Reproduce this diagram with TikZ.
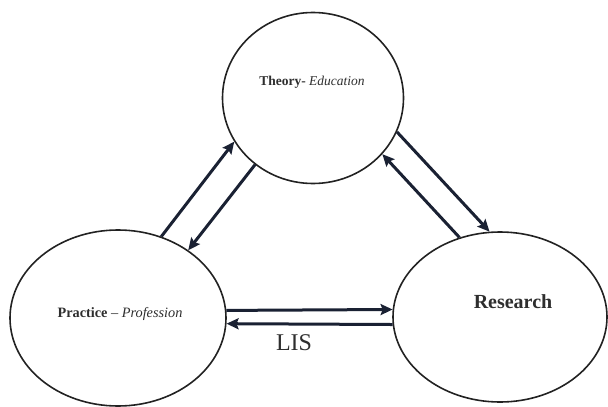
\documentclass[tikz,border=0pt]{standalone}
\usepackage{fontspec}
\setmainfont{Liberation Serif}
\usetikzlibrary{shapes.geometric,arrows.meta}
\definecolor{ink}{HTML}{1A2133}
\definecolor{rim}{HTML}{222222}
\definecolor{txt}{HTML}{2E2E2E}
\tikzset{
  blob/.style={ellipse, draw=rim, line width=1.6pt, inner sep=0pt},
  link/.style={draw=ink, line width=3pt, -{Stealth[length=12pt,width=11pt,inset=2pt]}},
  lbl/.style={text=txt, inner sep=0pt}
}
\begin{document}
\begin{tikzpicture}[x=1pt,y=-1pt]
\useasboundingbox (0,0) rectangle (608,407);
\node[blob, minimum width=181pt, minimum height=171pt] (theory) at (313,98) {};
\node[blob, minimum width=216pt, minimum height=176pt] (practice) at (118,318) {};
\node[blob, minimum width=214pt, minimum height=170pt] (research) at (500,317) {};

\node[lbl, font=\fontsize{13.5}{15}\selectfont] (tlbl) at (312,82) {\textbf{Theory-} \textit{Education}};
\node[lbl, font=\fontsize{14.3}{16}\selectfont] (plbl) at (120,314) {\textbf{Practice} -- \textit{Profession}};
\node[lbl, font=\fontsize{20}{23}\selectfont\bfseries] (rlbl) at (513,302) {Research};
\node[lbl, font=\fontsize{24}{27}\selectfont] (lis) at (294,343) {LIS};

\draw[link] (practice.62.6) -- (theory.209.9);
\draw[link] (theory.229.2) -- (practice.44.2);
\draw[link] (theory.338.8) -- (research.97.9);
\draw[link] (research.117.9) -- (theory.321.5);
\draw[link] (practice.4.3) -- (research.176.3);
\draw[link] (research.184.2) -- (practice.-3.7);
\end{tikzpicture}
\end{document}
